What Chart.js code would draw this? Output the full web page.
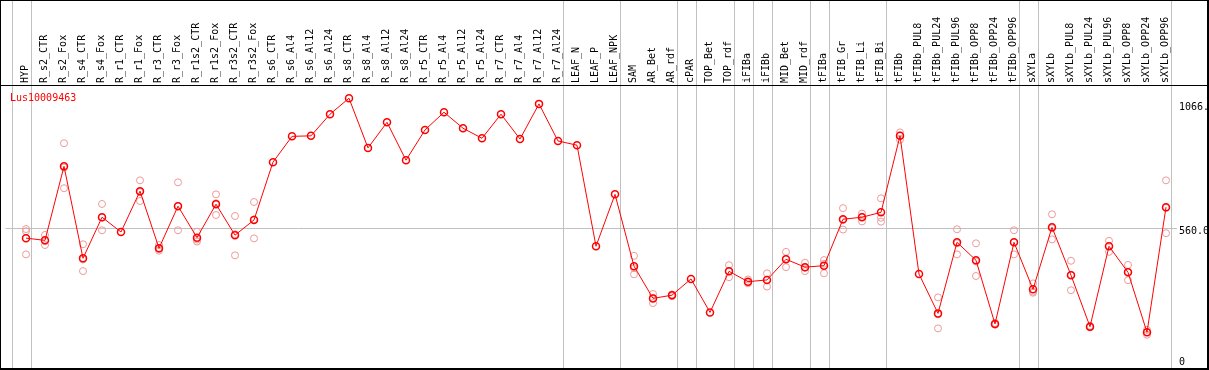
<!DOCTYPE html>
<html>
<head>
<meta charset="utf-8">
<script src="https://cdn.jsdelivr.net/npm/chart.js@4"></script>
<style>
  body { margin: 0; background: #fff; }
  #wrap { width: 1209px; height: 370px; position: relative; }
</style>
</head>
<body>
<div id="wrap"><canvas id="graph"></canvas></div>
<script>
const geneName = 'Lus10009463';

const categories = ['HYP', 'R_s2_CTR', 'R_s2_Fox', 'R_s4_CTR', 'R_s4_Fox', 'R_r1_CTR', 'R_r1_Fox',
  'R_r3_CTR', 'R_r3_Fox', 'R_r1s2_CTR', 'R_r1s2_Fox', 'R_r3s2_CTR', 'R_r3s2_Fox', 'R_s6_CTR',
  'R_s6_Al4', 'R_s6_Al12', 'R_s6_Al24', 'R_s8_CTR', 'R_s8_Al4', 'R_s8_Al12', 'R_s8_Al24',
  'R_r5_CTR', 'R_r5_Al4', 'R_r5_Al12', 'R_r5_Al24', 'R_r7_CTR', 'R_r7_Al4', 'R_r7_Al12', 'R_r7_Al24',
  'LEAF_N', 'LEAF_P', 'LEAF_NPK', 'SAM', 'AR_Bet', 'AR_rdf', 'cPAR', 'TOP_Bet', 'TOP_rdf',
  'iFIBa', 'iFIBb', 'MID_Bet', 'MID_rdf', 'tFIBa', 'tFIB_Gr', 'tFIB_Li', 'tFIB_Bi', 'tFIBb',
  'tFIBb_PUL8', 'tFIBb_PUL24', 'tFIBb_PUL96', 'tFIBb_OPP8', 'tFIBb_OPP24', 'tFIBb_OPP96',
  'sXYLa', 'sXYLb', 'sXYLb_PUL8', 'sXYLb_PUL24', 'sXYLb_PUL96', 'sXYLb_OPP8', 'sXYLb_OPP24', 'sXYLb_OPP96'];

// mean expression per sample
const means = [520, 511, 812, 438, 605, 545, 711, 479, 650, 522, 658, 532, 594, 829,
  934, 936, 1024, 1089, 887, 991, 837, 960, 1032, 967, 926, 1024, 923, 1066, 915,
  898, 487, 698, 406, 275, 288, 354, 218, 385,
  343, 350, 434, 402, 408, 597, 605, 625, 936,
  374, 214, 503, 430, 171, 503,
  312, 564, 369, 160, 487, 381, 137, 646];

// biological replicates (null = not shown)
const rep1 = [557, 533, 906, 495, 659, null, 755, 492, 747, 546, 698, 610, 667, null,
  null, null, null, null, null, null, null, null, null, null, null, null, null, null, null,
  null, null, null, 448, 293, 291, null, null, 410,
  352, 377, 464, 420, 431, 642, 620, 682, 950,
  null, 279, 556, 499, 175, 552,
  336, 617, 428, 163, 509, 411, 147, 755];
const rep2 = [548, 508, 807, 433, 604, null, 707, 476, 651, 514, 662, 536, 596, null,
  null, null, null, null, null, null, null, null, null, null, null, null, null, null, null,
  null, null, null, 398, 276, 288, null, null, 385,
  341, 350, 436, 400, 416, 594, 607, 603, 938,
  null, 210, 499, 425, 170, 503,
  302, 560, 371, 160, 488, 383, 137, 643];
const rep3 = [454, 492, 723, 386, 552, null, 671, 469, 552, 506, 614, 450, 519, null,
  null, null, null, null, null, null, null, null, null, null, null, null, null, null, null,
  null, null, null, 373, 256, 284, null, null, 361,
  336, 323, 402, 386, 377, 555, 588, 587, 920,
  null, 153, 454, 366, 168, 454,
  298, 515, 308, 157, 464, 349, 127, 540];

// last sample of each group; a grey separator follows it
const groupEnds = [-1, 0, 28, 31, 34, 35, 37, 38, 39, 41, 42, 45, 52, 53, 60];

const yTicks = [0, 560, 1066];
// the bottom label sits just above its tick, the others just below
const yTickLabels = [['0', ''], ['', '560.0'], ['', '1066.0']];

const FONT = { family: 'DejaVu Sans Mono', size: 10 };
const GRID = '#c0c0c0';

// where the first sample sits and the spacing between samples (px),
// and where 0 / 560 fall on the canvas
const X0 = 26, STEP = 19;
const Y_ZERO = 366, Y_PER_UNIT = 137.7 / 560;

function toPoints(arr) {
  return arr.map((v, i) => ({ x: i, y: v }));
}

const decorations = {
  id: 'decorations',
  afterLayout(chart) {
    // fit the axis ranges to the final chart area
    const ca = chart.chartArea;
    const xs = chart.scales.x, ys = chart.scales.y;
    xs.min = (ca.left - X0) / STEP;
    xs.max = (ca.right - X0) / STEP;
    xs.configure();
    ys.min = -(ca.bottom - Y_ZERO) / Y_PER_UNIT;
    ys.max = (Y_ZERO - ca.top) / Y_PER_UNIT;
    ys.configure();
  },
  beforeDraw(chart) {
    const ctx = chart.ctx;
    const xs = chart.scales.x;
    ctx.save();
    ctx.strokeStyle = GRID;
    ctx.lineWidth = 1;
    groupEnds.forEach(g => {
      const px = Math.round(xs.getPixelForValue(g + 0.25)) + 0.5;
      ctx.beginPath();
      ctx.moveTo(px, 0);
      ctx.lineTo(px, 368);
      ctx.stroke();
    });
    ctx.restore();
  },
  afterDraw(chart) {
    const ctx = chart.ctx;
    ctx.save();
    ctx.fillStyle = '#000';
    ctx.fillRect(0, 0, 1209, 1);
    ctx.fillRect(0, 0, 1, 370);
    ctx.fillRect(1207, 0, 2, 370);
    ctx.fillRect(0, 368, 1209, 2);
    ctx.fillRect(0, 85, 1209, 1);
    ctx.fillStyle = '#ff0000';
    ctx.font = '10px "DejaVu Sans Mono"';
    ctx.textBaseline = 'middle';
    ctx.fillText(geneName, 10, 98);
    ctx.restore();
  }
};

new Chart(document.getElementById('graph'), {
  type: 'line',
  data: {
    datasets: [{
      label: 'mean',
      data: toPoints(means),
      borderColor: '#ff0000',
      borderWidth: 1,
      pointRadius: 3.5,
      pointBorderWidth: 1.5,
      pointBorderColor: '#ff0000',
      pointBackgroundColor: 'rgba(0,0,0,0)',
      order: 0
    }].concat([rep1, rep2, rep3].map((r, k) => ({
      label: 'rep' + (k + 1),
      data: toPoints(r),
      showLine: false,
      pointRadius: 3.5,
      pointBorderWidth: 1,
      pointBorderColor: '#ec9a9a',
      pointBackgroundColor: 'rgba(0,0,0,0)',
      order: 1
    })))
  },
  options: {
    responsive: true,
    maintainAspectRatio: false,
    animation: false,
    layout: { padding: { left: 1, right: 0, top: 0, bottom: 1 } },
    plugins: { legend: { display: false }, tooltip: { enabled: false } },
    scales: {
      x: {
        type: 'linear',
        position: 'top',
        min: (1 - X0) / STEP,
        max: (1177 - X0) / STEP,
        afterBuildTicks: s => { s.ticks = categories.map((c, i) => ({ value: i })); },
        afterFit: s => { s.height = 85; s.paddingLeft = 0; s.paddingRight = 0; },
        grid: { display: false, drawTicks: false },
        border: { display: false },
        ticks: {
          autoSkip: false,
          minRotation: 90,
          maxRotation: 90,
          padding: 2,
          labelOffset: 11,
          color: '#000',
          font: FONT,
          callback: v => categories[v]
        }
      },
      y: {
        position: 'right',
        min: -12.2,
        max: 1142.8,
        afterBuildTicks: s => { s.ticks = yTicks.map(v => ({ value: v })); },
        afterFit: s => { s.width = 32; s.paddingTop = 0; s.paddingBottom = 0; },
        grid: {
          drawTicks: false,
          color: c => (c.tick && c.tick.value === 560) ? GRID : 'rgba(0,0,0,0)'
        },
        border: { display: false },
        ticks: {
          padding: 2,
          color: '#000',
          font: { family: 'DejaVu Sans Mono', size: 10, lineHeight: 0.7 },
          callback: (v) => yTickLabels[yTicks.indexOf(v)]
        }
      }
    }
  },
  plugins: [decorations]
});
</script>
</body>
</html>
